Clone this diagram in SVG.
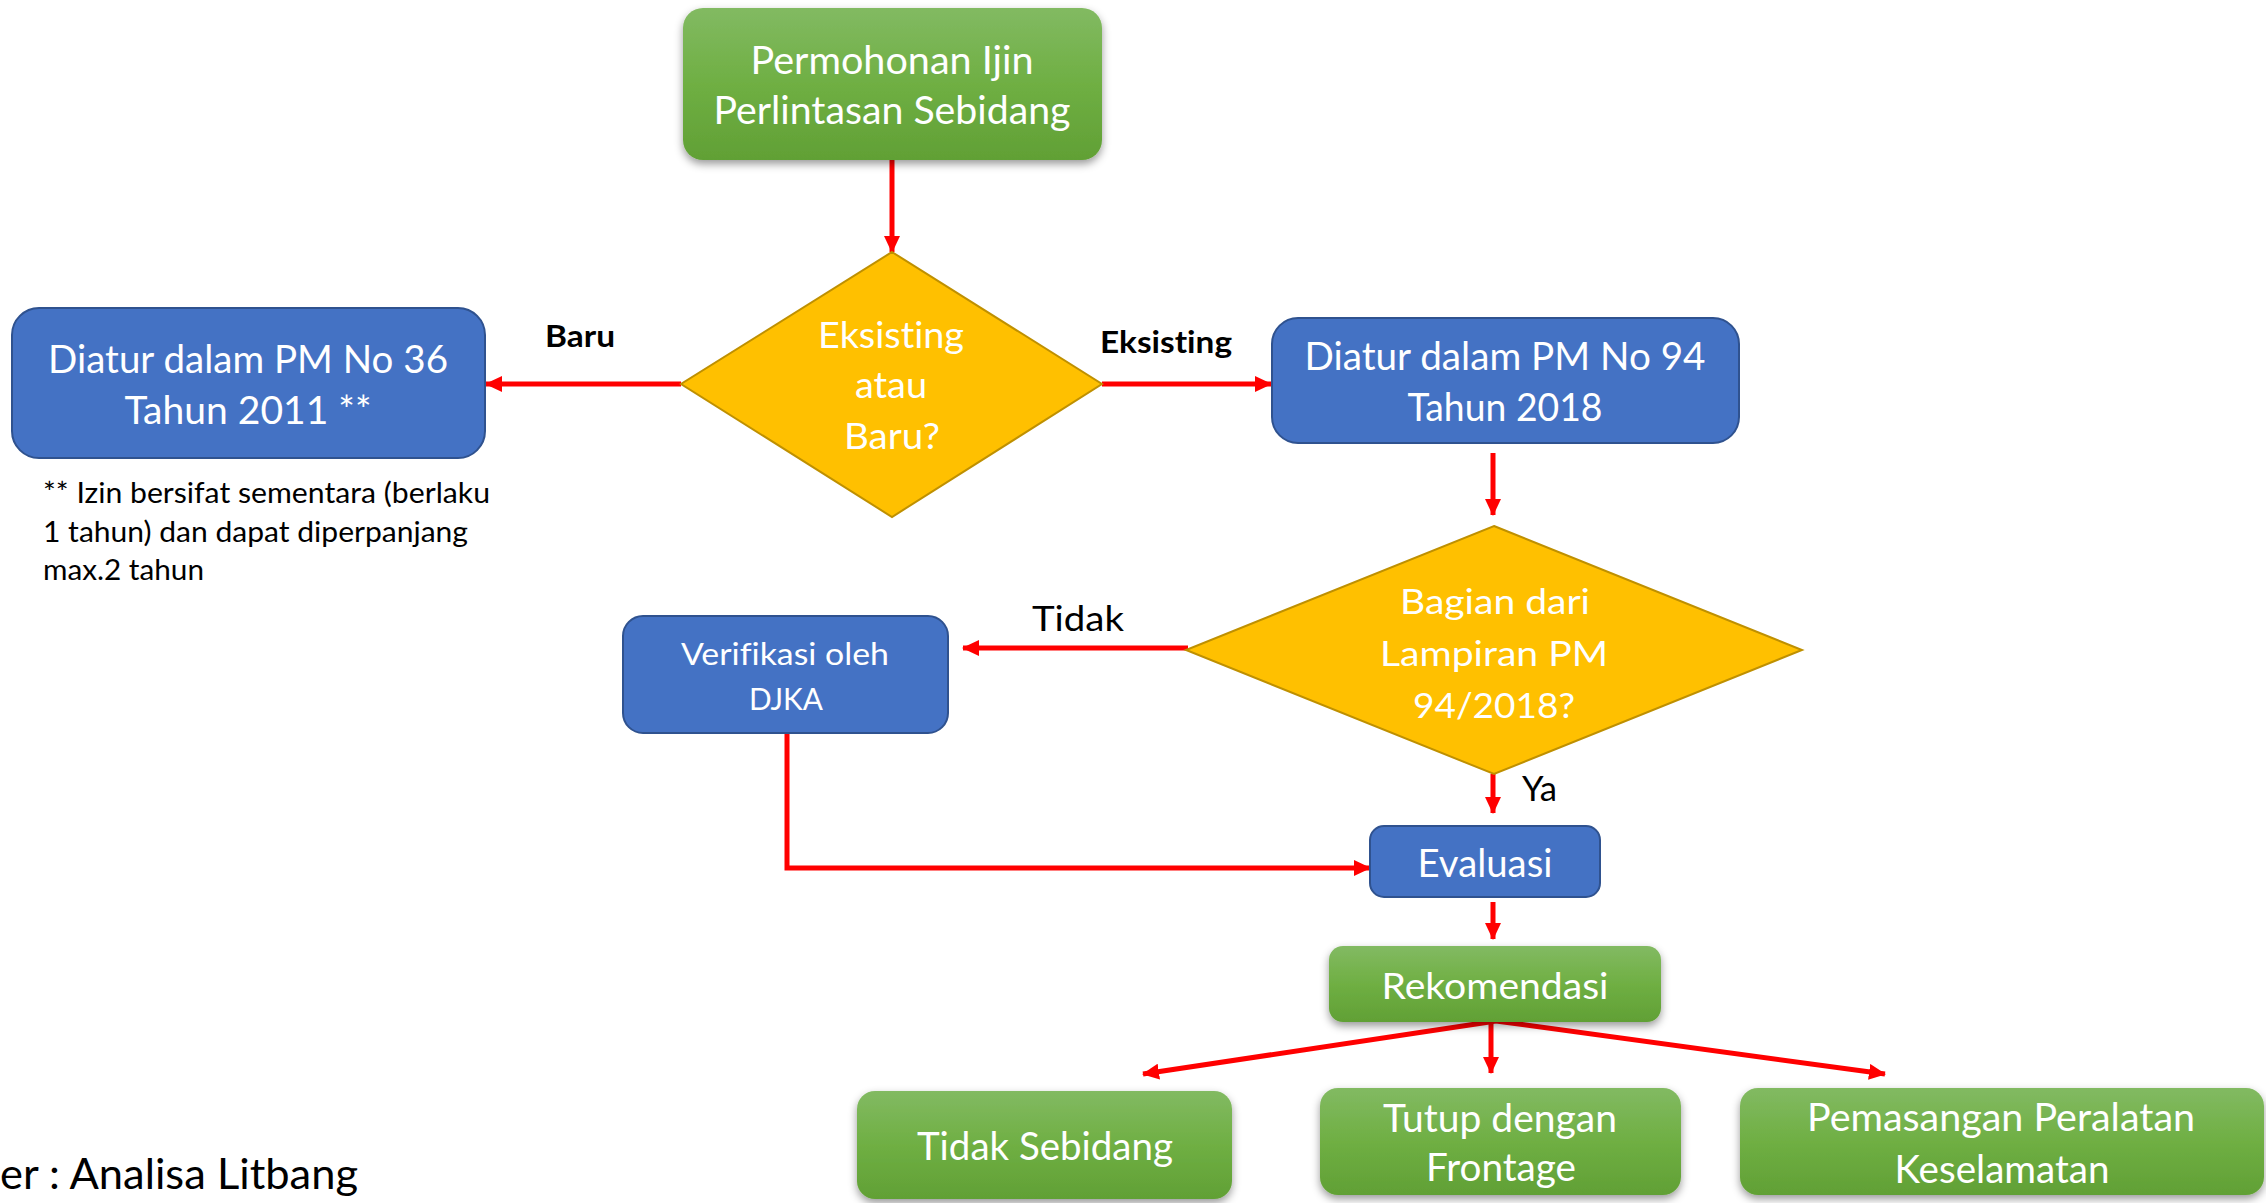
<svg xmlns="http://www.w3.org/2000/svg" width="2266" height="1203" viewBox="0 0 2266 1203">
<style>
  text { font-variant-ligatures: none; font-feature-settings: "liga" 0, "clig" 0; }
  .t { font-family: Lato, "Liberation Sans", sans-serif; fill: #ffffff; text-anchor: middle; }
  .k { font-family: Lato, "Liberation Sans", sans-serif; fill: #000000; }
  .b { font-weight: bold; }
  .blue { fill: #4472C4; stroke: #2F528F; stroke-width: 2; }
  .green { fill: url(#gg); filter: url(#sh); }
  .dia { fill: #FFC000; stroke: #BF9000; stroke-width: 2; }
  .c { fill: none; stroke: #FF0000; stroke-width: 5; marker-end: url(#ah); }
</style>
<defs>
  <linearGradient id="gg" x1="0" y1="0" x2="0" y2="1">
    <stop offset="0" stop-color="#82BA62"/>
    <stop offset="0.5" stop-color="#6FAF43"/>
    <stop offset="1" stop-color="#61A035"/>
  </linearGradient>
  <filter id="sh" x="-10%" y="-10%" width="120%" height="130%">
    <feDropShadow dx="0" dy="4" stdDeviation="4" flood-color="#000" flood-opacity="0.4"/>
  </filter>
  <marker id="ah" markerUnits="userSpaceOnUse" markerWidth="17" markerHeight="16" viewBox="0 0 17 16" refX="16" refY="8" orient="auto">
    <path d="M0,0 L17,8 L0,16 z" fill="#FF0000"/>
  </marker>
</defs>
<rect width="2266" height="1203" fill="#ffffff"/>

<g id="connectors">
  <path class="c" d="M892,160 L892,252"/>
  <path class="c" d="M681,384 L486,384"/>
  <path class="c" d="M1102,384 L1271,384"/>
  <path class="c" d="M1493,453 L1493,515"/>
  <path class="c" d="M1188,648 L963,648"/>
  <path class="c" d="M1493,774 L1493,813"/>
  <path class="c" d="M787,733 L787,868 L1370,868"/>
  <path class="c" d="M1493,902 L1493,939"/>
  <path class="c" d="M1496,1021 L1143,1074"/>
  <path class="c" d="M1491,1021 L1491,1073"/>
  <path class="c" d="M1496,1021 L1885,1074"/>
</g>

<g id="n-permohonan">
  <rect class="green" x="683" y="8" width="419" height="152" rx="20"/>
  <text class="t" font-size="38" x="892" y="74" textLength="283" lengthAdjust="spacingAndGlyphs">Permohonan Ijin</text>
  <text class="t" font-size="38" x="892" y="124" textLength="357" lengthAdjust="spacingAndGlyphs">Perlintasan Sebidang</text>
</g>

<g id="n-eksisting-baru">
  <polygon class="dia" points="892,252 1102,384 892,517 681,384"/>
  <text class="t" font-size="37" x="891" y="348" textLength="146" lengthAdjust="spacingAndGlyphs">Eksisting</text>
  <text class="t" font-size="37" x="891" y="398" textLength="72" lengthAdjust="spacingAndGlyphs">atau</text>
  <text class="t" font-size="37" x="892" y="449" textLength="96" lengthAdjust="spacingAndGlyphs">Baru?</text>
</g>

<g id="n-pm36">
  <rect class="blue" x="12" y="308" width="473" height="150" rx="27"/>
  <text class="t" font-size="38" x="248" y="373" textLength="400" lengthAdjust="spacingAndGlyphs">Diatur dalam PM No 36</text>
  <text class="t" font-size="38" x="248" y="424" textLength="247" lengthAdjust="spacingAndGlyphs">Tahun 2011 **</text>
</g>

<g id="note">
  <text class="k" font-size="29" x="43" y="503" textLength="447" lengthAdjust="spacingAndGlyphs">** Izin bersifat sementara (berlaku</text>
  <text class="k" font-size="29" x="43" y="542" textLength="425" lengthAdjust="spacingAndGlyphs">1 tahun) dan dapat diperpanjang</text>
  <text class="k" font-size="29" x="43" y="580" textLength="161" lengthAdjust="spacingAndGlyphs">max.2 tahun</text>
</g>

<g id="label-baru">
  <text class="k b" font-size="30" x="545" y="347" textLength="70" lengthAdjust="spacingAndGlyphs">Baru</text>
</g>
<g id="label-eksisting">
  <text class="k b" font-size="30" x="1100" y="353" textLength="132" lengthAdjust="spacingAndGlyphs">Eksisting</text>
</g>

<g id="n-pm94">
  <rect class="blue" x="1272" y="318" width="467" height="125" rx="26"/>
  <text class="t" font-size="38" x="1505" y="370" textLength="401" lengthAdjust="spacingAndGlyphs">Diatur dalam PM No 94</text>
  <text class="t" font-size="38" x="1505" y="421" textLength="195" lengthAdjust="spacingAndGlyphs">Tahun 2018</text>
</g>

<g id="n-lampiran">
  <polygon class="dia" points="1494,526 1802,650 1494,774 1186,650"/>
  <text class="t" font-size="35" x="1495" y="614" textLength="190" lengthAdjust="spacingAndGlyphs">Bagian dari</text>
  <text class="t" font-size="35" x="1494" y="666" textLength="228" lengthAdjust="spacingAndGlyphs">Lampiran PM</text>
  <text class="t" font-size="35" x="1494" y="718" textLength="162" lengthAdjust="spacingAndGlyphs">94/2018?</text>
</g>

<g id="label-tidak">
  <text class="k" font-size="35" x="1032" y="631" textLength="92" lengthAdjust="spacingAndGlyphs">Tidak</text>
</g>
<g id="label-ya">
  <text class="k" font-size="34" x="1522" y="801" textLength="35" lengthAdjust="spacingAndGlyphs">Ya</text>
</g>

<g id="n-verifikasi">
  <rect class="blue" x="623" y="616" width="325" height="117" rx="20"/>
  <text class="t" font-size="30" x="785" y="665" textLength="208" lengthAdjust="spacingAndGlyphs">Verifikasi oleh</text>
  <text class="t" font-size="30" x="786" y="710" textLength="74" lengthAdjust="spacingAndGlyphs">DJKA</text>
</g>

<g id="n-evaluasi">
  <rect class="blue" x="1370" y="826" width="230" height="71" rx="14"/>
  <text class="t" font-size="38" x="1485" y="877" textLength="135" lengthAdjust="spacingAndGlyphs">Evaluasi</text>
</g>

<g id="n-rekomendasi">
  <rect class="green" x="1329" y="946" width="332" height="76" rx="14"/>
  <text class="t" font-size="37" x="1495" y="999" textLength="227" lengthAdjust="spacingAndGlyphs">Rekomendasi</text>
</g>

<g id="n-tidak-sebidang">
  <rect class="green" x="857" y="1091" width="375" height="108" rx="18"/>
  <text class="t" font-size="38" x="1045" y="1160" textLength="256" lengthAdjust="spacingAndGlyphs">Tidak Sebidang</text>
</g>

<g id="n-tutup">
  <rect class="green" x="1320" y="1088" width="361" height="107" rx="18"/>
  <text class="t" font-size="38" x="1500" y="1132" textLength="234" lengthAdjust="spacingAndGlyphs">Tutup dengan</text>
  <text class="t" font-size="38" x="1501" y="1181" textLength="150" lengthAdjust="spacingAndGlyphs">Frontage</text>
</g>

<g id="n-pemasangan">
  <rect class="green" x="1740" y="1088" width="524" height="107" rx="18"/>
  <text class="t" font-size="38" x="2001" y="1131" textLength="388" lengthAdjust="spacingAndGlyphs">Pemasangan Peralatan</text>
  <text class="t" font-size="38" x="2002" y="1183" textLength="215" lengthAdjust="spacingAndGlyphs">Keselamatan</text>
</g>

<g id="source">
  <text class="k" font-size="42" x="358" y="1189" text-anchor="end" textLength="358" lengthAdjust="spacingAndGlyphs">er : Analisa Litbang</text>
</g>
</svg>
